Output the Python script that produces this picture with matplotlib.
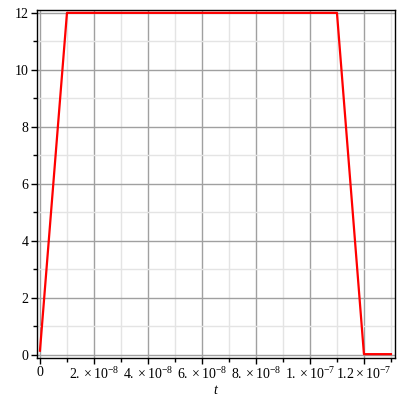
import matplotlib
matplotlib.use('Agg')
import matplotlib.pyplot as plt
from matplotlib.ticker import MultipleLocator, FixedLocator

plt.rcParams['font.family'] = 'Liberation Serif'
plt.rcParams['mathtext.fontset'] = 'custom'
plt.rcParams['mathtext.rm'] = 'Liberation Serif'
plt.rcParams['mathtext.it'] = 'Liberation Serif:italic'

# piecewise pulse
t = [0.0, 1.0e-8, 1.1e-7, 1.2e-7, 1.3e-7]
v = [0.15, 12.0, 12.0, 0.03, 0.03]

xticks = [0, 2e-8, 4e-8, 6e-8, 8e-8, 1e-7, 1.2e-7]
xlabels = ['0', r'$2.\times10^{-8}$', r'$4.\times10^{-8}$', r'$6.\times10^{-8}$',
           r'$8.\times10^{-8}$', r'$1.\times10^{-7}$', r'$1.2\times10^{-7}$']
yticks = [0, 2, 4, 6, 8, 10, 12]

fig = plt.figure(figsize=(4, 4), dpi=100)
ax = fig.add_axes([0.0925, 0.105, 0.895, 0.87])

ax.plot(t, v, color='red', linewidth=1.6, zorder=3)

ax.set_xlim(-0.11e-8, 13.15e-8)
ax.set_ylim(-0.105, 12.1)

ax.xaxis.set_major_locator(FixedLocator(xticks))
ax.set_xticklabels(xlabels)
ax.xaxis.set_minor_locator(MultipleLocator(1e-8))
ax.yaxis.set_major_locator(FixedLocator(yticks))
ax.yaxis.set_minor_locator(MultipleLocator(1))

ax.grid(which='major', color='#a0a0a0', linewidth=1.0)
ax.grid(which='minor', color='#e4e4e4', linewidth=1.0)
ax.set_axisbelow(True)

ax.tick_params(which='major', direction='out', length=4, width=1, labelsize=10, pad=2)
ax.tick_params(which='minor', direction='out', length=3, width=1)
for s in ax.spines.values():
    s.set_linewidth(1.0)
    s.set_color('black')

ax.set_xlabel('$t$', fontsize=10, labelpad=1)

fig.savefig('out.png', dpi=100)
